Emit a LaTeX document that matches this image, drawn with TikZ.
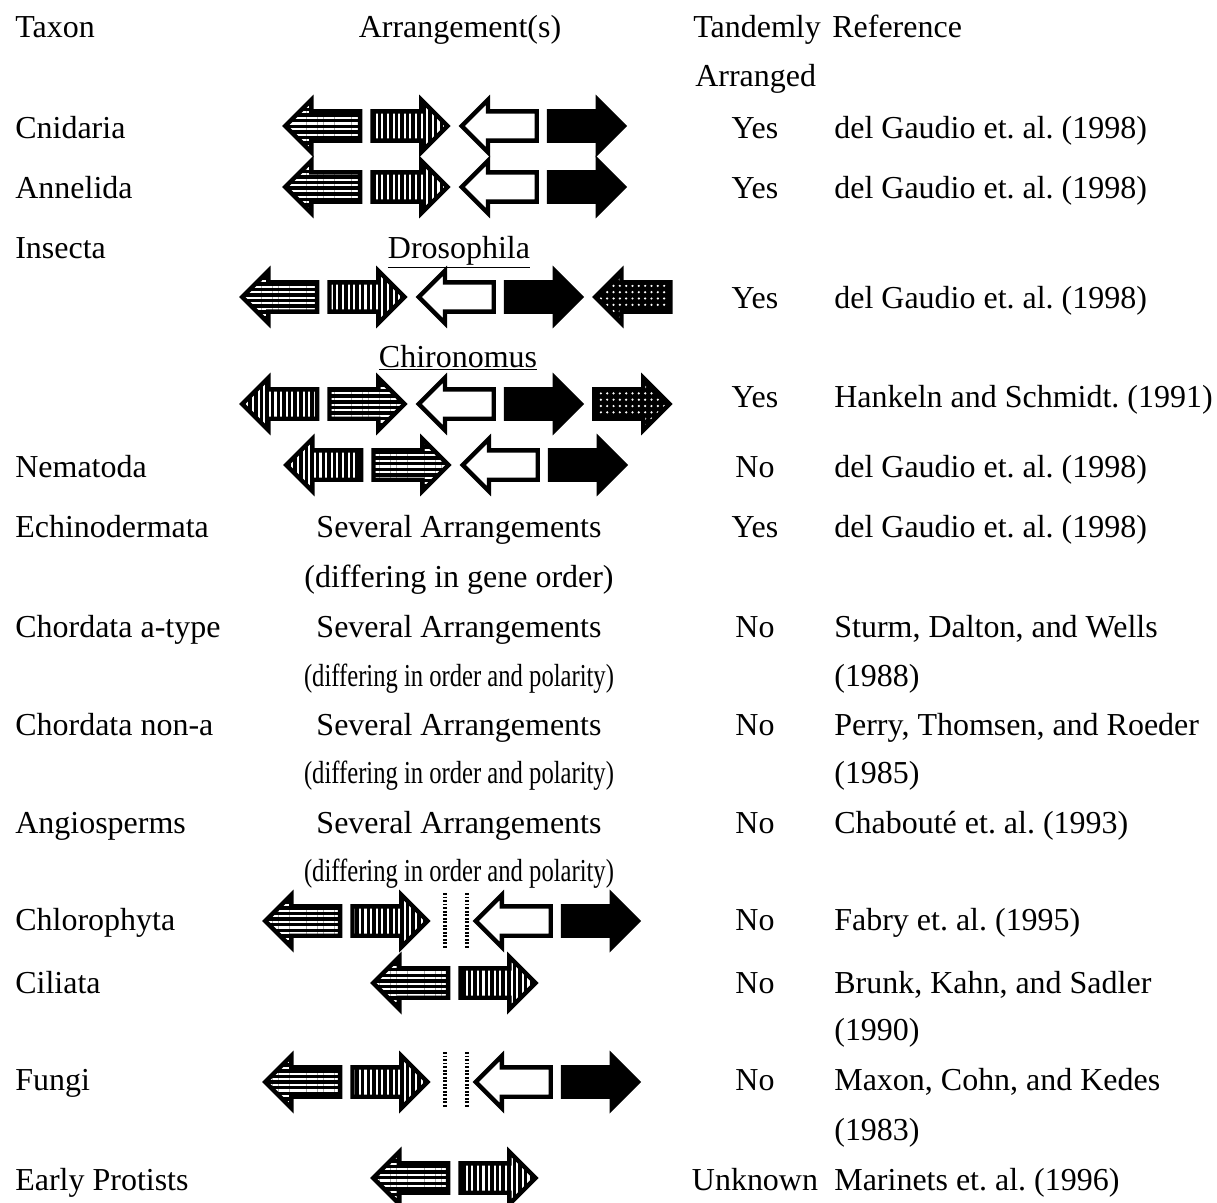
\documentclass[tikz,border=0pt]{standalone}
\usepackage{fontspec}
\setmainfont{Liberation Serif}
\usetikzlibrary{shapes.arrows, patterns.meta, positioning}

\newcommand{\squeezed}[1]{\scalebox{0.77}[1]{#1}}

\begin{document}
\frenchspacing
\begin{tikzpicture}[
            x=0.02cm, y=-0.02cm,
            node distance=0.16cm,
            every node/.style={font=\fontsize{18.2}{22}\selectfont},
            txt/.style={anchor=base west, inner sep=0pt},
            ctr/.style={anchor=base, inner sep=0pt},
            gene/.style={single arrow, minimum height=1.5cm, inner xsep=0pt, inner ysep=0.25cm, single arrow head extend=0.23cm, single arrow tip angle=90, line width=2.5pt},
            lgene/.style={gene, shape border rotate=180},
            hlines/.style={fill=black, postaction={pattern={Lines[angle=0,distance=3.2pt,line width=1.2pt]}, pattern color=white}, postaction={draw=black}},
            vlines/.style={fill=black, postaction={pattern={Lines[angle=90,distance=3.2pt,line width=1.2pt]}, pattern color=white}, postaction={draw=black}},
            dotgrid/.style={fill=black, postaction={pattern={Dots[radius=0.7pt,distance=3.6pt]}, pattern color=white}, postaction={draw=black}},
            open/.style={fill=white, draw=black},
            filled/.style={fill=black, draw=black},
            gapline/.style={line width=2pt, dash pattern=on 1.1pt off 0.9pt}
            ]
            \useasboundingbox (0,0) rectangle (1217,1203);

            % headings
            \node (taxhead) [txt] at (15,38) {Taxon};
            \node (arrhead) [ctr] at (460,38) {Arrangement(s)};
            \node (tanhead) [txt] at (693,38) {Tandemly};
            \node (tanhead2) [txt] at (695,87) {Arranged};
            \node (refhead) [txt] at (832,38) {Reference};

            % Cnidaria
            \node (cnitax) [txt] at (15,138) {Cnidaria};
            \node (cni1) [lgene, hlines] at (330,126) {};
            \node (cni2) [gene, vlines, right=of cni1] {};
            \node (cni3) [lgene, open, right=of cni2] {};
            \node (cni4) [gene, filled, right=of cni3] {};
            \node (cnitan) [ctr] at (755,138) {Yes};
            \node (cniref) [txt] at (834,138) {del Gaudio et. al. (1998)};

            % Annelida
            \node (anntax) [txt] at (15,198) {Annelida};
            \node (ann1) [lgene, hlines] at (330,187) {};
            \node (ann2) [gene, vlines, right=of ann1] {};
            \node (ann3) [lgene, open, right=of ann2] {};
            \node (ann4) [gene, filled, right=of ann3] {};
            \node (anntan) [ctr] at (755,198) {Yes};
            \node (annref) [txt] at (834,198) {del Gaudio et. al. (1998)};

            % Insecta
            \node (instax) [txt] at (15,258) {Insecta};
            \node (drolbl) [ctr] at (459,258) {\underline{Drosophila}};
            \node (dro1) [lgene, hlines] at (287,297) {};
            \node (dro2) [gene, vlines, right=of dro1] {};
            \node (dro3) [lgene, open, right=of dro2] {};
            \node (dro4) [gene, filled, right=of dro3] {};
            \node (dro5) [lgene, dotgrid, right=of dro4] {};
            \node (drotan) [ctr] at (755,308) {Yes};
            \node (droref) [txt] at (834,308) {del Gaudio et. al. (1998)};

            \node (chilbl) [ctr] at (458,367) {\underline{Chironomus}};
            \node (chi1) [lgene, vlines] at (287,404) {};
            \node (chi2) [gene, hlines, right=of chi1] {};
            \node (chi3) [lgene, open, right=of chi2] {};
            \node (chi4) [gene, filled, right=of chi3] {};
            \node (chi5) [gene, dotgrid, right=of chi4] {};
            \node (chitan) [ctr] at (755,407) {Yes};
            \node (chiref) [txt] at (834,407) {Hankeln and Schmidt. (1991)};

            % Nematoda
            \node (nemtax) [txt] at (15,477) {Nematoda};
            \node (nem1) [lgene, vlines] at (331,465) {};
            \node (nem2) [gene, hlines, right=of nem1] {};
            \node (nem3) [lgene, open, right=of nem2] {};
            \node (nem4) [gene, filled, right=of nem3] {};
            \node (nemtan) [ctr] at (755,477) {No};
            \node (nemref) [txt] at (834,477) {del Gaudio et. al. (1998)};

            % Echinodermata
            \node (echtax) [txt] at (15,537) {Echinodermata};
            \node (echarr) [ctr] at (459,537) {Several Arrangements};
            \node (echarr2) [ctr] at (459,587) {(differing in gene order)};
            \node (echtan) [ctr] at (755,537) {Yes};
            \node (echref) [txt] at (834,537) {del Gaudio et. al. (1998)};

            % Chordata a-type
            \node (chatax) [txt] at (15,637) {Chordata a-type};
            \node (chaarr) [ctr] at (459,637) {Several Arrangements};
            \node (chaarr2) [ctr] at (459,686) {\squeezed{(differing in order and polarity)}};
            \node (chatan) [ctr] at (755,637) {No};
            \node (charef) [txt] at (834,637) {Sturm, Dalton, and Wells};
            \node (charef2) [txt] at (834,686) {(1988)};

            % Chordata non-a
            \node (chntax) [txt] at (15,735) {Chordata non-a};
            \node (chnarr) [ctr] at (459,735) {Several Arrangements};
            \node (chnarr2) [ctr] at (459,783) {\squeezed{(differing in order and polarity)}};
            \node (chntan) [ctr] at (755,735) {No};
            \node (chnref) [txt] at (834,735) {Perry, Thomsen, and Roeder};
            \node (chnref2) [txt] at (834,783) {(1985)};

            % Angiosperms
            \node (angtax) [txt] at (15,833) {Angiosperms};
            \node (angarr) [ctr] at (459,833) {Several Arrangements};
            \node (angarr2) [ctr] at (459,881) {\squeezed{(differing in order and polarity)}};
            \node (angtan) [ctr] at (755,833) {No};
            \node (angref) [txt] at (834,833) {Chabouté et. al. (1993)};

            % Chlorophyta
            \node (chltax) [txt] at (15,930) {Chlorophyta};
            \node (chl1) [lgene, hlines] at (310,921) {};
            \node (chl2) [gene, vlines, right=of chl1] {};
            \node (chl3) [lgene, open, right=0.84cm of chl2] {};
            \node (chl4) [gene, filled, right=of chl3] {};
            \node (chltan) [ctr] at (755,930) {No};
            \node (chlref) [txt] at (834,930) {Fabry et. al. (1995)};

            % Ciliata
            \node (ciltax) [txt] at (15,993) {Ciliata};
            \node (cil1) [lgene, hlines] at (418,983) {};
            \node (cil2) [gene, vlines, right=of cil1] {};
            \node (ciltan) [ctr] at (755,993) {No};
            \node (cilref) [txt] at (834,993) {Brunk, Kahn, and Sadler};
            \node (cilref2) [txt] at (834,1040) {(1990)};

            % Fungi
            \node (funtax) [txt] at (15,1090) {Fungi};
            \node (fun1) [lgene, hlines] at (310,1082) {};
            \node (fun2) [gene, vlines, right=of fun1] {};
            \node (fun3) [lgene, open, right=0.84cm of fun2] {};
            \node (fun4) [gene, filled, right=of fun3] {};
            \node (funtan) [ctr] at (755,1090) {No};
            \node (funref) [txt] at (834,1090) {Maxon, Cohn, and Kedes};
            \node (funref2) [txt] at (834,1140) {(1983)};

            % Early Protists
            \node (eprtax) [txt] at (15,1190) {Early Protists};
            \node (epr1) [lgene, hlines] at (418,1178) {};
            \node (epr2) [gene, vlines, right=of epr1] {};
            \node (eprtan) [ctr] at (755,1190) {Unknown};
            \node (eprref) [txt] at (834,1190) {Marinets et. al. (1996)};

            % breaks between the gene pairs
            \foreach \y in {921,1080}
                \foreach \x in {445,467}
                    \draw [gapline] (\x,\y-28) -- (\x,\y+28);
        \end{tikzpicture}
\end{document}
